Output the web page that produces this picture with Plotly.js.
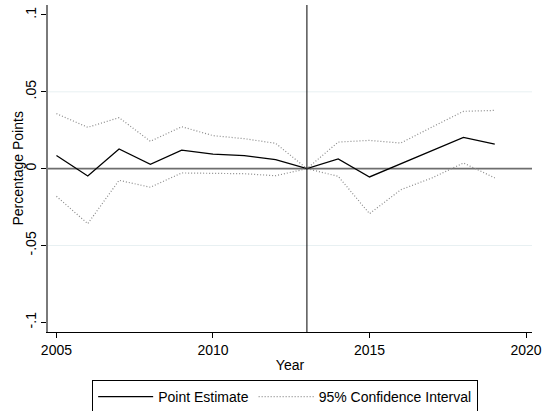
<!DOCTYPE html>
<html>
<head>
<meta charset="utf-8">
<script src="https://cdn.plot.ly/plotly-3.0.1.min.js"></script>
<style>html,body{margin:0;padding:0;background:#fff;}#chart{width:543px;height:411px;}</style>
</head>
<body>
<div id="chart"></div>
<script>
var years = [2005, 2006, 2007, 2008, 2009, 2010, 2011, 2012, 2013, 2014, 2015, 2016, 2017, 2018, 2019];
var pointEstimate = [0.0086, -0.0048, 0.0128, 0.0028, 0.0121, 0.0095, 0.0085, 0.0059, 0.0, 0.0063, -0.0054, 0.0031, 0.0117, 0.0204, 0.0160];
var upperCI = [0.0358, 0.0269, 0.0332, 0.0178, 0.0273, 0.0215, 0.0195, 0.0165, 0.0, 0.0173, 0.0184, 0.0167, 0.0271, 0.0373, 0.0379];
var lowerCI = [-0.0180, -0.0358, -0.0076, -0.0121, -0.0028, -0.0030, -0.0033, -0.0046, 0.0, -0.0050, -0.0293, -0.0137, -0.0060, 0.0037, -0.0060];
var xTicks = [2005, 2010, 2015, 2020];
var yTicks = [-0.1, -0.05, 0, 0.05, 0.1];
var yTickLabels = ['-.1', '-.05', '0', '.05', '.1'];
var eventYear = 2013;
var gridValues = [-0.05, 0.05];

var font = {family: 'Liberation Sans, Arial, Helvetica, sans-serif', size: 14, color: '#000'};

var traces = [
  {x: years, y: pointEstimate, type: 'scatter', mode: 'lines', name: 'Point Estimate',
   line: {color: '#000', width: 1.3}},
  {x: years, y: upperCI, type: 'scatter', mode: 'lines', name: '95% Confidence Interval',
   line: {color: '#8a8a8a', width: 1.2, dash: '1px,2px'}},
  {x: years, y: lowerCI, type: 'scatter', mode: 'lines', name: '95% Confidence Interval',
   showlegend: false, line: {color: '#8a8a8a', width: 1.2, dash: '1px,2px'}}
];

var shapes = gridValues.map(function(v){
  return {type: 'line', xref: 'paper', x0: 0, x1: 1, yref: 'y', y0: v, y1: v,
          line: {color: '#e8f0f2', width: 1}, layer: 'below'};
});
shapes.push({type: 'line', xref: 'paper', x0: 0, x1: 1, yref: 'y', y0: 0, y1: 0,
             line: {color: '#6e6e6e', width: 1.6}, layer: 'below'});
shapes.push({type: 'line', xref: 'x', x0: eventYear, x1: eventYear, yref: 'paper', y0: 0, y1: 1,
             line: {color: '#000', width: 1}, layer: 'above'});

var layout = {
  width: 543, height: 411,
  margin: {l: 48, r: 11, t: 5, b: 79, autoexpand: false},
  paper_bgcolor: '#fff', plot_bgcolor: '#fff',
  font: font,
  showlegend: true,
  xaxis: {
    range: [2004.73, 2020.19], tickvals: xTicks, ticktext: xTicks.map(String),
    ticks: 'outside', ticklen: 5, tickwidth: 1, tickcolor: '#000',
    showline: true, linecolor: '#000', linewidth: 1.3, showgrid: false, zeroline: false,
    title: {text: 'Year', font: font, standoff: 3}, tickfont: font
  },
  yaxis: {
    range: [-0.1063, 0.1065], tickvals: yTicks, ticktext: yTickLabels, tickangle: -90,
    ticks: 'outside', ticklen: 5, tickwidth: 1, tickcolor: '#000',
    showline: true, linecolor: '#7a7a7a', linewidth: 1.6, showgrid: false, zeroline: false,
    tickfont: font
  },
  annotations: [{
    text: 'Percentage Points', xref: 'paper', yref: 'paper', x: -0.064, y: 0.5,
    xanchor: 'center', yanchor: 'middle', textangle: -90, showarrow: false, font: font
  }],
  legend: {
    orientation: 'h', x: 0.49, xanchor: 'center', y: -0.147, yanchor: 'top',
    bordercolor: '#000', borderwidth: 1, bgcolor: '#fff', font: font,
    itemwidth: 55
  },
  shapes: shapes
};

Plotly.newPlot('chart', traces, layout, {staticPlot: true, displayModeBar: false});
</script>
</body>
</html>
